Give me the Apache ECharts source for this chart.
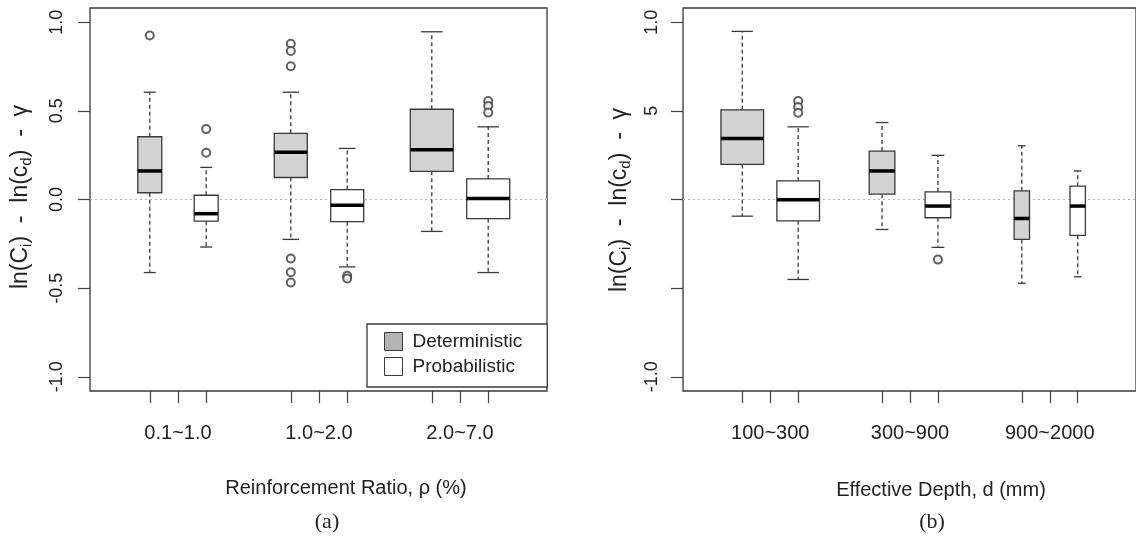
<!DOCTYPE html>
<html>
<head>
<meta charset="utf-8">
<script src="https://cdn.jsdelivr.net/npm/echarts@6/dist/echarts.min.js"></script>
<style>
  html, body { margin: 0; padding: 0; background: #fff; }
  #chart { width: 1136px; height: 537px; }
</style>
</head>
<body>
<div id="chart"></div>
<script>
// 分组名称
const groupsA = ['0.1~1.0', '1.0~2.0', '2.0~7.0'];
const groupsB = ['100~300', '300~900', '900~2000'];

// 箱线: [下须, Q1, 中位数, Q3, 上须]
const detA = [
    [-0.412, 0.038, 0.161, 0.354, 0.605],
    [-0.225, 0.124, 0.266, 0.373, 0.605],
    [-0.180, 0.159, 0.281, 0.509, 0.946]
];
const probA = [
    [-0.268, -0.122, -0.080, 0.024, 0.181],
    [-0.380, -0.125, -0.032, 0.056, 0.288],
    [-0.412, -0.108, 0.006, 0.116, 0.410]
];
const detB = [
    [-0.094, 0.198, 0.344, 0.506, 0.948],
    [-0.169, 0.030, 0.161, 0.273, 0.434],
    [-0.472, -0.225, -0.107, 0.049, 0.303]
];
const probB = [
    [-0.451, -0.120, -0.002, 0.105, 0.410],
    [-0.270, -0.103, -0.037, 0.043, 0.249],
    [-0.436, -0.202, -0.037, 0.075, 0.161]
];

// 离群点
const detOutA = [[0.925], [0.878, 0.837, 0.751, -0.333, -0.410, -0.468], []];
const probOutA = [[0.397, 0.264], [-0.430, -0.445], [0.556, 0.528, 0.490]];
const detOutB = [[], [], []];
const probOutB = [[0.556, 0.522, 0.489], [-0.339], []];

// y 轴刻度
const yTicks = [-1, -0.5, 0, 0.5, 1];
const yLabelsA = ['-1.0', '-0.5', '0.0', '0.5', '1.0'];
const yLabelsB = ['-1.0', '', '', '5', '1.0'];

// 箱宽 (x 轴单位, varwidth)
const widthA = [0.17, 0.234, 0.305];
const widthB = [0.305, 0.184, 0.11];

const xMin = 0.376, xMax = 3.617;
const offset = 0.2;
const lineColor = '#3a3a3a';
const font = "'Liberation Sans', Arial, sans-serif";

function boxData(stats, side) {
    return stats.map(function (s, i) { return [i + 1 + side * offset].concat(s); });
}
function outData(outs, side) {
    let arr = [];
    outs.forEach(function (list, i) {
        list.forEach(function (v) { arr.push([i + 1 + side * offset, v]); });
    });
    return arr;
}

function boxRender(widths, fill) {
    return function (params, api) {
        let x = api.value(0);
        let lo = api.coord([x, api.value(1)]);
        let q1 = api.coord([x, api.value(2)]);
        let md = api.coord([x, api.value(3)]);
        let q3 = api.coord([x, api.value(4)]);
        let hi = api.coord([x, api.value(5)]);
        let w = api.size([widths[params.dataIndex], 0])[0];
        let cx = lo[0];
        let dash = { stroke: lineColor, lineWidth: 1.3, lineDash: [4, 3] };
        let solid = { stroke: lineColor, lineWidth: 1.3 };
        return {
            type: 'group',
            children: [
                { type: 'line', shape: { x1: cx, y1: q3[1], x2: cx, y2: hi[1] }, style: dash },
                { type: 'line', shape: { x1: cx, y1: q1[1], x2: cx, y2: lo[1] }, style: dash },
                { type: 'line', shape: { x1: cx - w / 4, y1: hi[1], x2: cx + w / 4, y2: hi[1] }, style: solid },
                { type: 'line', shape: { x1: cx - w / 4, y1: lo[1], x2: cx + w / 4, y2: lo[1] }, style: solid },
                { type: 'rect', shape: { x: cx - w / 2, y: q3[1], width: w, height: q1[1] - q3[1] },
                  style: { fill: fill, stroke: lineColor, lineWidth: 1.3 } },
                { type: 'line', shape: { x1: cx - w / 2, y1: md[1], x2: cx + w / 2, y2: md[1] },
                  style: { stroke: '#000', lineWidth: 3.5 } }
            ]
        };
    };
}

function makeAxes(idx, groups, yLabels) {
    let xAxis = {
        gridIndex: idx, type: 'value', min: xMin, max: xMax,
        splitLine: { show: false },
        axisLine: { show: false, onZero: false },
        axisTick: { show: true, length: 12, customValues: [0.8, 1, 1.2, 1.8, 2, 2.2, 2.8, 3, 3.2],
                    lineStyle: { color: '#444', width: 1.2 } },
        axisLabel: { customValues: [1, 2, 3], formatter: function (v) { return groups[Math.round(v) - 1]; },
                     fontSize: 20, color: '#222', fontFamily: font, margin: 32 }
    };
    let yAxis = {
        gridIndex: idx, type: 'value', min: -1.08, max: 1.08,
        splitLine: { show: false },
        axisLine: { show: false, onZero: false },
        axisTick: { show: true, length: 12, customValues: yTicks, lineStyle: { color: '#444', width: 1.2 } },
        axisLabel: { customValues: yTicks, rotate: 90, fontSize: 18, color: '#222', fontFamily: font,
                     margin: idx === 0 ? 24 : 22,
                     formatter: function (v) { return yLabels[yTicks.indexOf(v)]; } }
    };
    return [xAxis, yAxis];
}

(function () {
    let myChart = echarts.init(document.getElementById('chart'));
    let axA = makeAxes(0, groupsA, yLabelsA);
    let axB = makeAxes(1, groupsB, yLabelsB);

    function panelSeries(idx, det, prob, detOut, probOut, widths) {
        return [
            {
                name: 'zero', type: 'line', xAxisIndex: idx, yAxisIndex: idx, z: 1,
                data: [[xMin, 0], [xMax, 0]], showSymbol: false, silent: true,
                lineStyle: { color: '#b5b5b5', width: 1, type: [2, 3] }
            },
            {
                name: 'Deterministic', type: 'custom', xAxisIndex: idx, yAxisIndex: idx, z: 3,
                itemStyle: { color: '#d3d3d3' },
                encode: { x: 0, y: [1, 2, 3, 4, 5] },
                renderItem: boxRender(widths, '#d3d3d3'),
                data: boxData(det, -1)
            },
            {
                name: 'Probabilistic', type: 'custom', xAxisIndex: idx, yAxisIndex: idx, z: 3,
                itemStyle: { color: '#ffffff' },
                encode: { x: 0, y: [1, 2, 3, 4, 5] },
                renderItem: boxRender(widths, '#ffffff'),
                data: boxData(prob, 1)
            },
            {
                name: 'outlier', type: 'scatter', xAxisIndex: idx, yAxisIndex: idx, z: 4,
                symbol: 'emptyCircle', symbolSize: 8,
                itemStyle: { color: lineColor, borderWidth: 1.2 },
                data: outData(detOut, -1).concat(outData(probOut, 1))
            }
        ];
    }

    let yTitle = '{n|ln(C}{s|i}{n|)  -  ln(c}{s|d}{n|)  -  γ}';
    let yTitleRich = {
        n: { fontSize: 23, fontFamily: font, fill: '#222' },
        s: { fontSize: 15, fontFamily: font, fill: '#222', padding: [11, 0, 0, 0] }
    };

    let option = {
        animation: false,
        textStyle: { fontFamily: font },
        grid: [
            { left: 90, top: 8, width: 457, height: 383, show: true, borderColor: lineColor, borderWidth: 1.3 },
            { left: 683, top: 8, width: 457, height: 383, show: true, borderColor: lineColor, borderWidth: 1.3 }
        ],
        xAxis: [axA[0], axB[0]],
        yAxis: [axA[1], axB[1]],
        legend: {
            orient: 'vertical', left: 367, top: 324,
            padding: [8, 25, 11, 17], itemWidth: 18, itemHeight: 18, itemGap: 6,
            borderColor: lineColor, borderWidth: 1.3, borderRadius: 0, backgroundColor: '#fff',
            selectedMode: false, icon: 'rect',
            textStyle: { fontSize: 19, color: '#222', fontFamily: font, padding: [0, 0, 0, 5] },
            data: [
                { name: 'Deterministic', itemStyle: { color: '#b4b4b4', borderColor: lineColor, borderWidth: 1 } },
                { name: 'Probabilistic', itemStyle: { color: '#ffffff', borderColor: lineColor, borderWidth: 1 } }
            ]
        },
        graphic: [
            { type: 'text', x: 346, y: 488, style: { text: 'Reinforcement Ratio, ρ (%)', fontSize: 20, fontFamily: font, fill: '#222', align: 'center', verticalAlign: 'middle' } },
            { type: 'text', x: 327, y: 522, style: { text: '(a)', fontSize: 22, fontFamily: "'Liberation Serif', serif", fill: '#222', align: 'center', verticalAlign: 'middle' } },
            { type: 'text', x: 941, y: 490, style: { text: 'Effective Depth, d (mm)', fontSize: 20, fontFamily: font, fill: '#222', align: 'center', verticalAlign: 'middle' } },
            { type: 'text', x: 932, y: 522, style: { text: '(b)', fontSize: 22, fontFamily: "'Liberation Serif', serif", fill: '#222', align: 'center', verticalAlign: 'middle' } },
            { type: 'text', x: 21, y: 197, rotation: Math.PI / 2, style: { text: yTitle, rich: yTitleRich, align: 'center', verticalAlign: 'middle' } },
            { type: 'text', x: 620, y: 200, rotation: Math.PI / 2, style: { text: yTitle, rich: yTitleRich, align: 'center', verticalAlign: 'middle' } }
        ],
        series: panelSeries(0, detA, probA, detOutA, probOutA, widthA)
            .concat(panelSeries(1, detB, probB, detOutB, probOutB, widthB))
    };
    myChart.setOption(option);
    window.addEventListener('resize', function () {
        myChart.resize();
    })
})();
</script>
</body>
</html>
